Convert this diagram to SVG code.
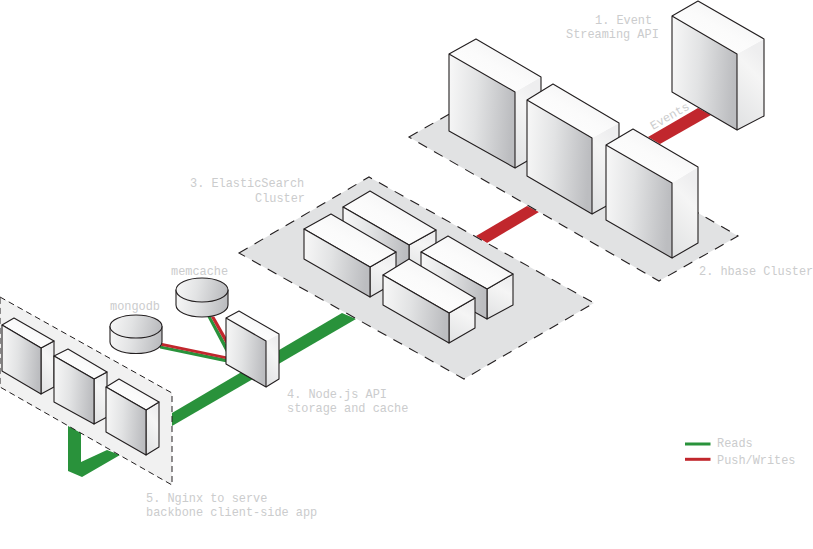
<svg xmlns="http://www.w3.org/2000/svg" width="813" height="549" viewBox="0 0 813 549">
<style>
.front{fill:url(#gf)}
.top{fill:url(#gt)}
.side{fill:url(#gs)}
.front,.top,.side,.cyl,.outline{stroke:#231f20;stroke-width:1.1;stroke-linejoin:round}
.outline{fill:none}
.soft{stroke:none}
.cyl{fill:url(#gf)}
.plate{fill:#e1e2e3;stroke:#231f20;stroke-width:1.1;stroke-dasharray:10 8}
.plate2{fill:#f1f1f1;stroke:#231f20;stroke-width:1;stroke-dasharray:6 4}
.red{fill:#c1272d}
.green{fill:#29923b}
text{font-family:"Liberation Mono",monospace;font-size:11.9px;fill:#cbcccd}
</style>
<defs>
<linearGradient id="gf" x1="0" y1="0" x2="1" y2="0.1"><stop offset="0" stop-color="#f8f8f8"/><stop offset="0.45" stop-color="#e2e3e4"/><stop offset="1" stop-color="#bcbdc0"/></linearGradient>
<linearGradient id="gt" x1="0" y1="1" x2="1" y2="0"><stop offset="0" stop-color="#ffffff"/><stop offset="0.5" stop-color="#fbfbfb"/><stop offset="1" stop-color="#eeeeef"/></linearGradient>
<linearGradient id="gs" x1="0" y1="1" x2="0.3" y2="0"><stop offset="0" stop-color="#e0e1e2"/><stop offset="0.75" stop-color="#f5f5f5"/><stop offset="1" stop-color="#eeeeef"/></linearGradient>
</defs>

<g id="connectors">
<polygon class="red" points="648,137 698,108 711,115 660,144"/>
<polygon class="red" points="527,206 539,212 487,243 476,236"/>
<polygon class="green" points="342,313 356,319 172,426 172,413"/>
<polygon class="green" points="107,450 120,455 82,477 68,471 68,426 81,430 81,462"/>
<polygon class="green" points="207.300,316.500 210.700,316.500 226.500,345 226.500,353"/>
<polygon class="red" points="210.700,316.500 214.300,316.500 226.500,338 226.500,345"/>
<polygon class="green" points="160,345.500 160,348.500 227,362.500 227,359"/>
<polygon class="red" points="161,342.800 161,345.800 227,359.300 227,356.500"/>
</g>

<g id="plate-hbase"><polygon class="plate" points="409,137 488,92 738,236 659,281"/></g>
<g id="plate-elasticsearch"><polygon class="plate" points="239,253 369,177 594,303 464,379"/></g>
<g id="plate-nginx"><polygon class="plate2" points="0,297 172,393 172,485 0,387"/></g>

<g id="event-api">
<polygon class="side soft" points="737,54 764,39 764,116 737,130"/>
<polygon class="top soft" points="672,16 698,1 764,39 737,54"/>
<polyline class="outline" points="672,16 698,1 764,39 764,116 737,130"/>
<polygon class="front" points="672,16 737,54 737,130 672,92"/>
</g>
<g id="hbase-1">
<polygon class="side soft" points="515,92 541,77 541,153 515,168"/>
<polygon class="top soft" points="449,54 476,39 541,77 515,92"/>
<polyline class="outline" points="449,54 476,39 541,77 541,153 515,168"/>
<polygon class="front" points="449,54 515,92 515,168 449,131"/>
</g>
<g id="hbase-2">
<polygon class="side soft" points="592,138 619,123 619,199 592,214"/>
<polygon class="top soft" points="527,100 553,84 619,123 592,138"/>
<polyline class="outline" points="527,100 553,84 619,123 619,199 592,214"/>
<polygon class="front" points="527,100 592,138 592,214 527,176"/>
</g>
<g id="hbase-3">
<polygon class="side soft" points="672,183 698,167 698,243 672,258"/>
<polygon class="top soft" points="606,145 633,129 698,167 672,183"/>
<polyline class="outline" points="606,145 633,129 698,167 698,243 672,258"/>
<polygon class="front" points="606,145 672,183 672,258 606,220"/>
</g>

<g id="es-back-left">
<polygon class="side" points="409,245 436,230 436,260 409,275"/>
<polygon class="top" points="343,207 370,191 436,230 409,245"/>
<polygon class="front" points="343,207 409,245 409,275 343,237"/>
</g>
<g id="es-front-left">
<polygon class="side" points="370,267 396,252 396,282 370,297"/>
<polygon class="top" points="304,229 331,214 396,252 370,267"/>
<polygon class="front" points="304,229 370,267 370,297 304,259"/>
</g>
<g id="es-back-right">
<polygon class="side" points="487,289 513,274 513,305 487,319"/>
<polygon class="top" points="421,252 448,236 513,274 487,289"/>
<polygon class="front" points="421,252 487,289 487,319 421,282"/>
</g>
<g id="es-front-right">
<polygon class="side" points="449,313 475,298 475,328 449,343"/>
<polygon class="top" points="383,275 409,259 475,298 449,313"/>
<polygon class="front" points="383,275 449,313 449,343 383,305"/>
</g>

<g id="nodejs-api">
<polygon class="side soft" points="266,341 279,334 279,379 266,387"/>
<polygon class="top soft" points="226,318 239,311 279,334 266,341"/>
<polyline class="outline" points="226,318 239,311 279,334 279,379 266,387"/>
<polygon class="front" points="226,318 266,341 266,387 226,364"/>
</g>

<g id="memcache">
<path class="cyl" d="M176,290V305A26,12 0 0 0 228,305V290Z"/>
<ellipse class="cyl" cx="202" cy="290" rx="26" ry="12"/>
</g>
<g id="mongodb">
<path class="cyl" d="M110,326.500V342A26,11.500 0 0 0 162,342V326.500Z"/>
<ellipse class="cyl" cx="136" cy="326.500" rx="26" ry="11.500"/>
</g>

<g id="nginx-1">
<polygon class="side" points="41,348 54,341 54,387 41,394"/>
<polygon class="top" points="2,325 14,318 54,341 41,348"/>
<polygon class="front" points="2,325 41,348 41,394 2,371"/>
</g>
<g id="nginx-2">
<polygon class="side" points="94,379 107,372 107,417 94,424"/>
<polygon class="top" points="54,356 68,349 107,372 94,379"/>
<polygon class="front" points="54,356 94,379 94,424 54,402"/>
</g>
<g id="nginx-3">
<polygon class="side" points="146,410 159,402 159,447 146,455"/>
<polygon class="top" points="106,387 119,379 159,402 146,410"/>
<polygon class="front" points="106,387 146,410 146,455 106,432"/>
</g>

<g id="legend">
<rect class="green" x="685" y="442.500" width="25.500" height="3"/>
<rect class="red" x="685" y="457.800" width="25.500" height="3"/>
<text x="717" y="447">Reads</text>
<text x="717" y="464">Push/Writes</text>
</g>

<g id="labels">
<text x="595" y="24">1. Event</text>
<text x="566" y="38">Streaming API</text>
<text x="699" y="275">2. hbase Cluster</text>
<text x="190" y="187">3. ElasticSearch</text>
<text x="255" y="202">Cluster</text>
<text x="171" y="275">memcache</text>
<text x="110" y="310">mongodb</text>
<text x="287" y="398">4. Node.js API</text>
<text x="287" y="412">storage and cache</text>
<text x="146" y="502">5. Nginx to serve</text>
<text x="146" y="516">backbone client-side app</text>
<text transform="translate(653,130) rotate(-30)">Events</text>
</g>
</svg>
